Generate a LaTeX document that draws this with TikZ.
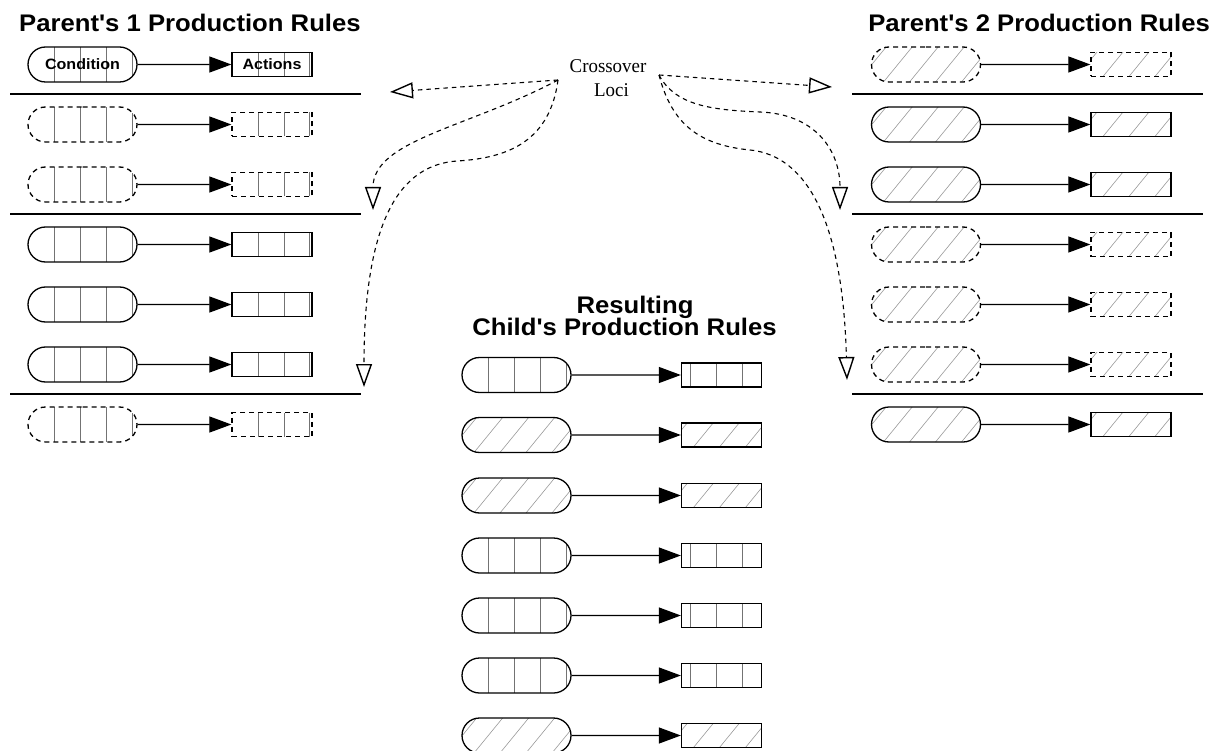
\documentclass[tikz,border=0pt]{standalone}
\usepackage{fontspec}
\usetikzlibrary{shapes.misc,arrows.meta}
\newfontfamily\ttlfont{Liberation Sans}[FakeStretch=1.07,Ligatures=TeXOff]
\newfontfamily\locifont{Liberation Serif}[FakeStretch=0.97]

\tikzset{
  pill/.style={rounded rectangle, draw, line width=1.3pt, minimum width=109pt, minimum height=35pt, inner sep=0pt},
  act/.style={rectangle, draw, line width=1.3pt, minimum width=80pt, minimum height=24pt, inner sep=0pt},
  dsh/.style={dash pattern=on 5pt off 4pt},
  barline/.style={draw=black!55, line width=0.7pt, solid},
  hatchline/.style={draw=black!40, line width=0.6pt, solid},
  pbars/.style={path picture={\foreach \d in {26,52,78,104}
      \draw[barline] ([xshift=\d pt]path picture bounding box.south west) -- ([xshift=\d pt]path picture bounding box.north west);}},
  abars/.style={path picture={\foreach \d in {26,52,77}
      \draw[barline] ([xshift=\d pt]path picture bounding box.south west) -- ([xshift=\d pt]path picture bounding box.north west);}},
  cbars/.style={path picture={\foreach \d in {9,35,61}
      \draw[barline] ([xshift=\d pt]path picture bounding box.south west) -- ([xshift=\d pt]path picture bounding box.north west);}},
  hatch/.style={path picture={\foreach \d in {-40,-14,...,120}
      \draw[hatchline] ([xshift=\d pt]path picture bounding box.south west) -- ++(36pt,44pt);}},
  conn/.style={line width=1.2pt, -{Triangle[length=22pt,width=16pt]}},
  xarr/.style={line width=1.1pt, dash pattern=on 4.5pt off 4pt, -{Triangle[open,length=23pt,width=16pt,line width=1.4pt]}},
  sep/.style={line width=1.3pt},
  ttl/.style={font=\ttlfont\bfseries\fontsize{24}{24}\selectfont, inner sep=0pt},
  inner/.style={font=\ttlfont\bfseries\fontsize{15}{15}\selectfont},
  loci/.style={font=\locifont\fontsize{19.5}{19.5}\selectfont, inner sep=0pt},
}

% name, pill x, rect x, y, pill style, rect style
\newcommand\rrow[6]{%
  \node[pill,#5] (#1c) at (#2,#4) {};
  \node[act,#6] (#1a) at (#3,#4) {};
  \draw[conn] (#1c) -- (#1a);
}

\begin{document}
\begin{tikzpicture}[x=1pt,y=-1pt]
\useasboundingbox (0,0) rectangle (1214,751);

% titles
\node[ttl, anchor=base west] (t1) at (19,32) {Parent's 1 Production Rules};
\node[ttl, anchor=base east] (t2) at (1210,32) {Parent's 2 Production Rules};
\node[ttl, anchor=base] (t3a) at (635,313) {Resulting};
\node[ttl, anchor=base] (t3b) at (624.5,335) {Child's Production Rules};

% Parent 1
\node[pill,pbars,inner] (L1c) at (82.5,64.5) {Condition};
\node[act,abars,inner] (L1a) at (272,64.5) {Actions};
\draw[conn] (L1c) -- (L1a);
\rrow{L2}{82.5}{272}{124.5}{pbars,dsh}{abars,dsh}
\rrow{L3}{82.5}{272}{184.5}{pbars,dsh}{abars,dsh}
\rrow{L4}{82.5}{272}{244.5}{pbars}{abars}
\rrow{L5}{82.5}{272}{304.5}{pbars}{abars}
\rrow{L6}{82.5}{272}{364.5}{pbars}{abars}
\rrow{L7}{82.5}{272}{424.5}{pbars,dsh}{abars,dsh}
\draw[sep] (10,94) -- (361,94);
\draw[sep] (10,214) -- (361,214);
\draw[sep] (10,394) -- (361,394);

% Parent 2
\rrow{R1}{926}{1131}{64.5}{hatch,dsh}{hatch,dsh}
\rrow{R2}{926}{1131}{124.5}{hatch}{hatch}
\rrow{R3}{926}{1131}{184.5}{hatch}{hatch}
\rrow{R4}{926}{1131}{244.5}{hatch,dsh}{hatch,dsh}
\rrow{R5}{926}{1131}{304.5}{hatch,dsh}{hatch,dsh}
\rrow{R6}{926}{1131}{364.5}{hatch,dsh}{hatch,dsh}
\rrow{R7}{926}{1131}{424.5}{hatch}{hatch}
\draw[sep] (852,94) -- (1203,94);
\draw[sep] (852,214) -- (1203,214);
\draw[sep] (852,394) -- (1203,394);

% Child
\rrow{C1}{516.5}{721.5}{375}{pbars}{cbars}
\rrow{C2}{516.5}{721.5}{435}{hatch}{hatch}
\rrow{C3}{516.5}{721.5}{495.5}{hatch}{hatch}
\rrow{C4}{516.5}{721.5}{555.5}{pbars}{cbars}
\rrow{C5}{516.5}{721.5}{615.5}{pbars}{cbars}
\rrow{C6}{516.5}{721.5}{675.5}{pbars}{cbars}
\rrow{C7}{516.5}{721.5}{735.5}{hatch}{hatch}

% crossover loci
\node[loci, anchor=base] (loc1) at (608,73) {Crossover};
\node[loci, anchor=base] (loc2) at (611.5,97) {Loci};
\coordinate (xl) at (558,80);
\coordinate (xr) at (659,75);
\coordinate (a1) at (390,92);
\coordinate (a2) at (373,210);
\coordinate (a3) at (364,387);
\coordinate (a4) at (832,87);
\coordinate (a5) at (840,210);
\coordinate (a6) at (847,380);
\draw[xarr] (xl) -- (a1);
\draw[xarr] (xl) .. controls (470,127) and (373,140) .. (a2);
\draw[xarr] (xl) .. controls (550,140) and (510,158) .. (457,161) .. controls (400,165) and (364,220) .. (a3);
\draw[xarr] (xr) -- (a4);
\draw[xarr] (xr) .. controls (675,105) and (710,110) .. (760,112) .. controls (815,114) and (840,150) .. (a5);
\draw[xarr] (xr) .. controls (672,125) and (700,145) .. (750,150) .. controls (790,154) and (842,190) .. (a6);
\end{tikzpicture}
\end{document}
